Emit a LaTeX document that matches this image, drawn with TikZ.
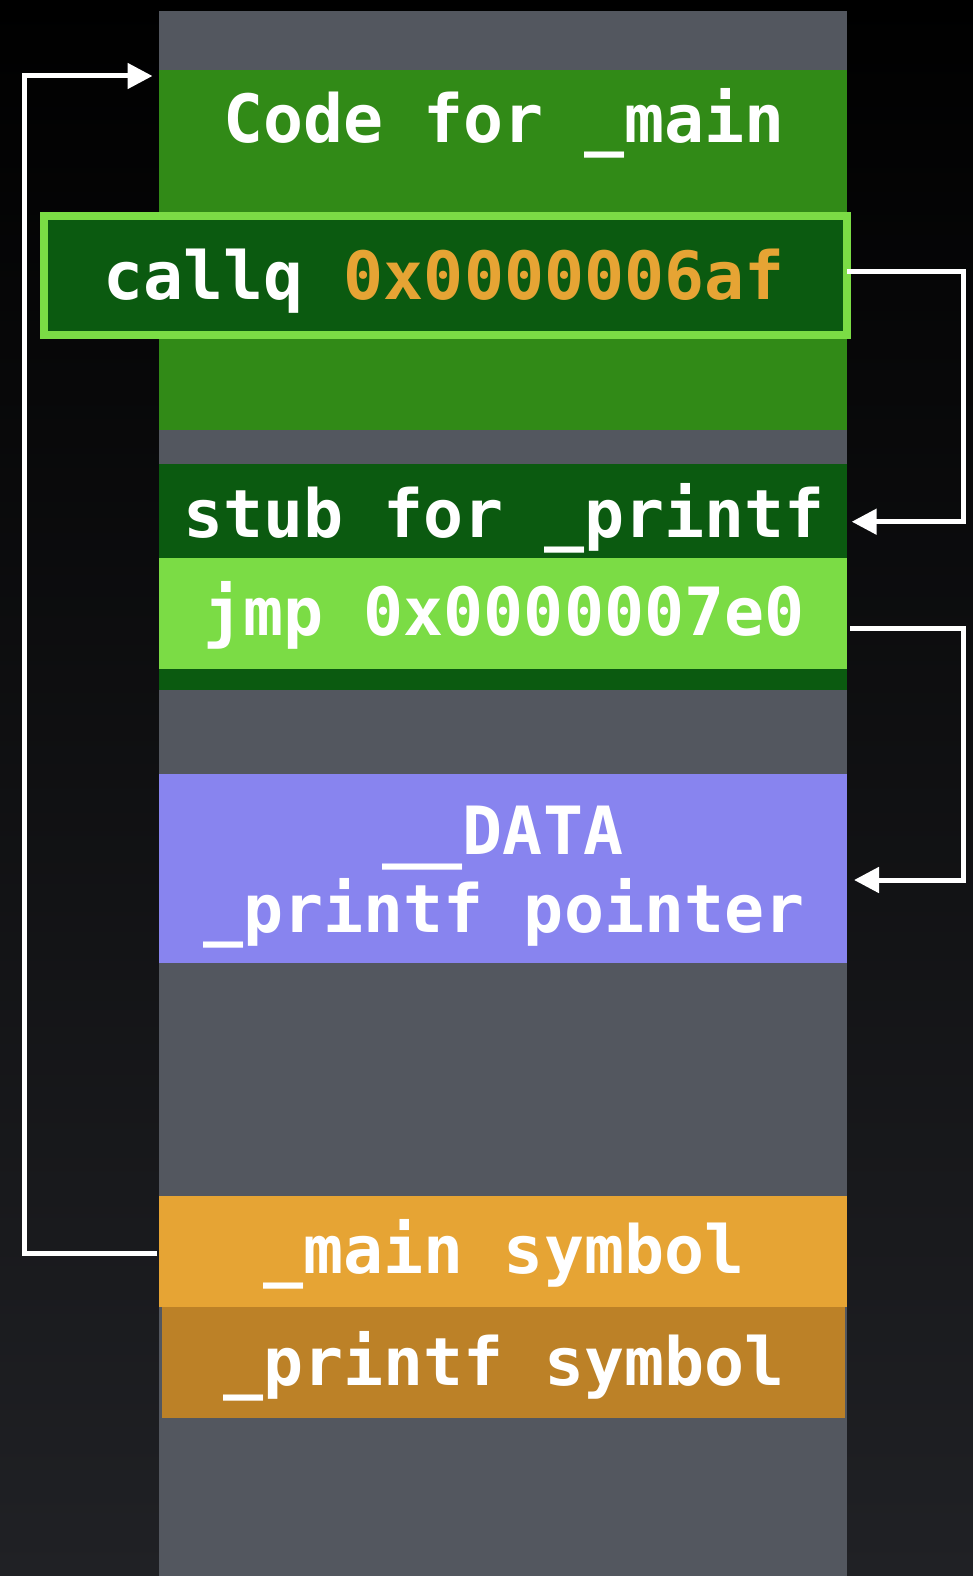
\documentclass[tikz,border=0pt]{standalone}
\usepackage{fontspec}
\setmainfont{DejaVu Sans Mono}
\usetikzlibrary{arrows.meta}
\definecolor{bgbot}{RGB}{32,33,37}
\definecolor{colgray}{RGB}{83,87,95}
\definecolor{codegreen}{RGB}{49,138,23}
\definecolor{darkgreen}{RGB}{11,90,16}
\definecolor{lightgreen}{RGB}{123,220,69}
\definecolor{purp}{RGB}{136,132,239}
\definecolor{orng}{RGB}{230,164,52}
\definecolor{dorng}{RGB}{188,129,39}
\begin{document}
\begin{tikzpicture}[x=1pt,y=-1pt,
  box/.style={draw=none, inner sep=0pt, outer sep=0pt, minimum width=688pt},
  lbl/.style={text=white, inner sep=0pt, outer sep=0pt, anchor=base,
    font=\fontsize{66.5pt}{70pt}\selectfont\bfseries},
  arr/.style={draw=white, line width=5pt, -{Triangle[length=25pt,width=25pt]}}]
\useasboundingbox (0,0) rectangle (973,1576);
\shade[top color=black, bottom color=bgbot] (0,0) rectangle (973,1576);
% column and blocks
\node[box, fill=colgray, minimum height=1565pt] (column) at (502.5,793.5) {};
\node[box, fill=codegreen, minimum height=360pt] (codemain) at (502.5,250) {};
\node[draw=lightgreen, fill=darkgreen, line width=8pt, inner sep=0pt, outer sep=0pt,
  minimum width=803pt, minimum height=119.3pt] (callq) at (445.5,275.7) {};
\node[box, fill=darkgreen, minimum height=226pt] (stub) at (502.5,577) {};
\node[box, fill=lightgreen, minimum height=111pt] (jmp) at (502.5,613.2) {};
\node[box, fill=purp, minimum height=188.7pt] (data) at (502.5,868.35) {};
\node[box, fill=orng, minimum height=110.7pt] (mainsym) at (502.5,1251.35) {};
\node[box, fill=dorng, minimum width=683.3pt, minimum height=111pt] (printfsym) at (503.35,1362.2) {};
% labels
\node[lbl] (tcode) at (504,142.7) {Code for \_main};
\node[lbl] (tcallq) at (444,299.3) {callq \textcolor{orng}{0x0000006af}};
\node[lbl] (tstub) at (504,537) {stub for \_printf};
\node[lbl] (tjmp) at (504,635) {jmp 0x0000007e0};
\node[lbl] (tdata) at (503,854.3) {\_\_DATA};
\node[lbl] (tptr) at (504,932.3) {\_printf pointer};
\node[lbl] (tmain) at (504,1273.3) {\_main symbol};
\node[lbl] (tpsym) at (504,1385) {\_printf symbol};
% connectors
\coordinate (bendL) at (24,76);
\coordinate (bendR1) at (963,271);
\coordinate (bendR2) at (963,628.3);
\draw[arr] ([xshift=-1.5pt,yshift=-2.6pt]mainsym.west) -| (bendL)
  -- ([xshift=-6pt,yshift=-6pt]codemain.north west);
\draw[arr] ([yshift=4.7pt]callq.east) -- (bendR1)
  |- ([xshift=5.2pt,yshift=55.3pt]stub.east);
\draw[arr] ([xshift=3.5pt,yshift=-15.1pt]jmp.east) -- (bendR2)
  |- ([xshift=7.5pt,yshift=-11.65pt]data.east);
\end{tikzpicture}
\end{document}
